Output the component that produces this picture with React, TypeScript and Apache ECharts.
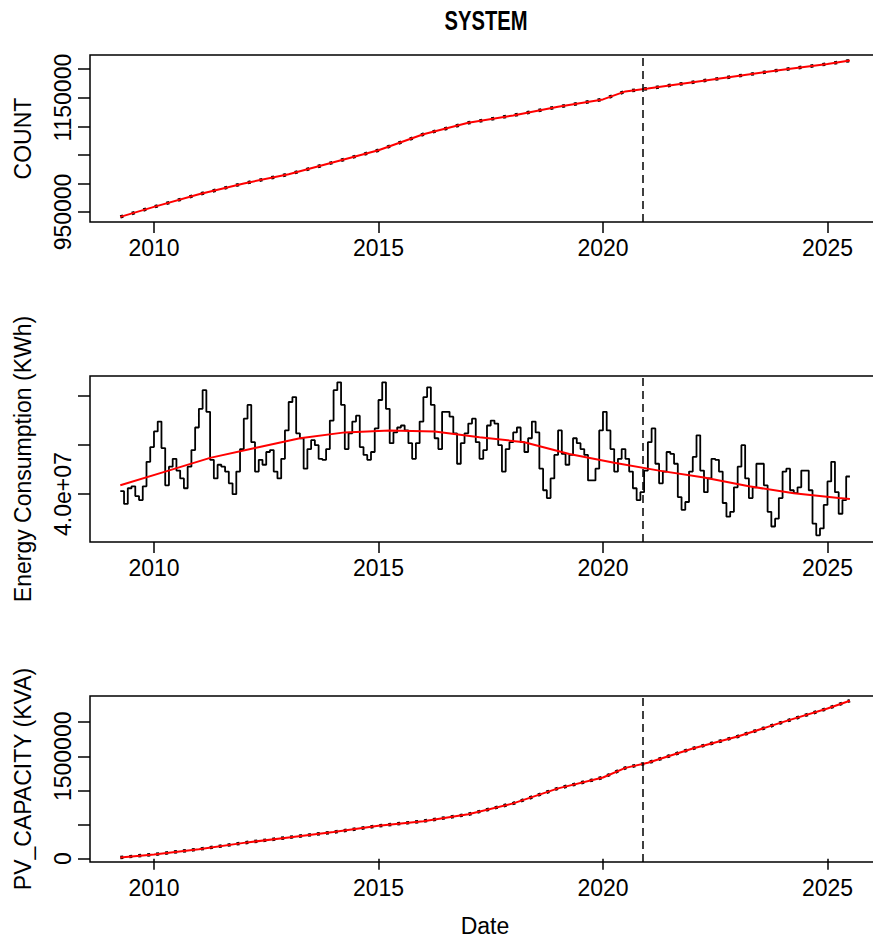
import React, { useEffect, useRef } from 'react';
import * as echarts from 'echarts';

// ---------- data ----------
const TITLE = 'SYSTEM';
const START_YEAR = 2009;
const START_MONTH = 4; // first monthly observation: April 2009
const CUTOFF_YEAR = 2020.875; // dashed vertical line (Nov 2020)

const X_TICKS = [2010, 2015, 2020, 2025];

// Panel 1: COUNT (read at knots, decimal years)
const COUNT_YEARS = [2009.25, 2010, 2011, 2012, 2013, 2014, 2015, 2016, 2017, 2018, 2019, 2020, 2020.5, 2021, 2022, 2023, 2024, 2025, 2025.5];
const COUNT_VALUES = [941400, 959000, 981000, 1000000, 1016000, 1037000, 1058000, 1086000, 1106000, 1119000, 1134000, 1147000, 1161000, 1166000, 1177000, 1188000, 1199000, 1209000, 1215000];
const COUNT_TICKS = [950000, 1000000, 1050000, 1100000, 1150000, 1200000];
const COUNT_LABELS = [950000, 1150000];

// Panel 2: Energy consumption, monthly, in millions of KWh (Apr 2009 .. Jul 2025)
const ENERGY_MONTHLY = [
  40.3, 39.0, 40.6, 40.8, 39.8, 39.4, 40.8, 43.3, 44.8, 46.4, 47.4, 44.7,
  40.9, 42.8, 43.6, 42.4, 41.6, 40.6, 42.8, 44.5, 46.8, 48.7, 50.6, 48.4,
  43.5, 41.6, 43.0, 42.8, 42.3, 41.1, 40.0, 42.3, 44.6, 47.7, 49.1, 45.3,
  42.3, 43.5, 43.0, 44.3, 44.5, 42.3, 41.6, 43.6, 46.5, 49.4, 49.9, 46.2,
  45.7, 42.6, 44.6, 45.5, 45.0, 43.6, 43.5, 44.6, 47.5, 50.6, 51.4, 49.1,
  44.6, 46.2, 47.4, 48.0, 44.8, 44.0, 43.5, 44.3, 46.7, 49.6, 51.4, 48.7,
  45.2, 46.3, 46.8, 47.0, 46.5, 45.2, 43.6, 45.2, 47.4, 49.9, 50.9, 49.1,
  45.7, 44.6, 48.4, 48.4, 47.9, 46.2, 43.1, 45.2, 46.2, 47.2, 47.7, 45.3,
  43.6, 44.5, 47.0, 47.5, 47.2, 45.0, 42.3, 44.6, 45.3, 46.3, 46.8, 45.3,
  44.3, 45.7, 47.4, 46.3, 42.6, 40.4, 39.6, 41.6, 44.0, 46.5, 44.1, 43.0,
  44.0, 45.7, 45.2, 44.6, 44.0, 41.4, 41.4, 42.6, 46.5, 48.4, 46.5, 44.6,
  42.3, 43.6, 44.6, 43.6, 42.3, 40.6, 39.4, 40.2, 42.4, 45.3, 46.7, 43.1,
  41.1, 42.3, 44.3, 44.1, 43.1, 39.7, 38.4, 39.2, 42.3, 43.8, 46.0, 42.4,
  40.2, 41.6, 43.6, 43.5, 42.3, 39.1, 37.7, 38.2, 40.7, 42.8, 45.0, 41.6,
  39.6, 40.7, 43.1, 43.1, 40.9, 38.2, 36.7, 37.5, 39.6, 42.3, 42.6, 40.4,
  40.1, 40.7, 42.4, 42.4, 40.4, 37.0, 35.8, 36.5, 38.9, 41.3, 43.3, 40.2,
  38.0, 39.4, 41.8, 41.8,
];
const ENERGY_TREND_YEARS = [2009.25, 2010.25, 2011.25, 2012.25, 2013.25, 2014.25, 2015.25, 2016.25, 2017.25, 2018.25, 2019.25, 2020.25, 2021.25, 2022.25, 2023.25, 2024.25, 2025.25, 2025.5];
const ENERGY_TREND = [40.9, 42.3, 43.7, 44.7, 45.7, 46.3, 46.5, 46.4, 45.8, 45.3, 44.1, 43.2, 42.4, 41.7, 40.8, 40.1, 39.6, 39.5];
const ENERGY_TICKS = [40, 45, 50];
const ENERGY_LABELS = [40];

// Panel 3: PV capacity (KVA)
const PV_YEARS = [2009.25, 2010, 2011, 2012, 2013, 2014, 2015, 2016, 2017, 2018, 2019, 2020, 2020.5, 2021, 2022, 2023, 2024, 2025, 2025.5];
const PV_VALUES = [19000, 62000, 140000, 232000, 312000, 390000, 482000, 550000, 650000, 810000, 1030000, 1190000, 1330000, 1405000, 1615000, 1790000, 2000000, 2200000, 2314000];
const PV_TICKS = [0, 500000, 1000000, 1500000, 2000000];
const PV_LABELS = [0, 1500000];

// ---------- layout ----------
const FONT = '"Liberation Sans", Arial, Helvetica, sans-serif';
const FS = 23;
const X_MIN = 2008.575;
const X_MAX = 2026.17;
const PLOT_LEFT = 90;
const PLOT_WIDTH = 790;

const zip = (xs: number[], ys: number[]) => xs.map((x, i) => [x, ys[i]]);

export default function App() {
  const ref = useRef<HTMLDivElement>(null);

  useEffect(() => {
    if (!ref.current) return;
    const chart = echarts.init(ref.current, undefined, { renderer: 'svg' });

    const energyData = ENERGY_MONTHLY.map((v, i) => [START_YEAR + (START_MONTH - 1 + i) / 12, v]);

    const grids = [
      { left: PLOT_LEFT, top: 55, width: PLOT_WIDTH, height: 167 },
      { left: PLOT_LEFT, top: 376, width: PLOT_WIDTH, height: 166 },
      { left: PLOT_LEFT, top: 696, width: PLOT_WIDTH, height: 166 },
    ].map((g) => ({
      ...g,
      show: true,
      borderColor: '#000',
      borderWidth: 1.5,
      backgroundColor: 'transparent',
      containLabel: false,
      outerBoundsMode: 'none',
    }));

    const xAxis = [0, 1, 2].map((i) => ({
      type: 'value',
      gridIndex: i,
      min: X_MIN,
      max: X_MAX,
      axisLine: { show: false },
      splitLine: { show: false },
      axisTick: { show: true, length: 11, customValues: X_TICKS, lineStyle: { color: '#000', width: 1.5 } },
      axisLabel: { customValues: X_TICKS, fontSize: FS, color: '#000', fontFamily: FONT, margin: 14, formatter: (v: number) => String(v) },
      ...(i === 2
        ? { name: 'Date', nameLocation: 'middle', nameGap: 52, nameTextStyle: { fontSize: FS, color: '#000', fontFamily: FONT } }
        : {}),
    }));

    const yAxisBase = (i: number, name: string, min: number, max: number, ticks: number[], labels: number[], fmt: (v: number) => string) => ({
      type: 'value',
      gridIndex: i,
      min,
      max,
      name,
      nameLocation: 'middle',
      nameGap: 56,
      nameTextStyle: { fontSize: FS, color: '#000', fontFamily: FONT },
      axisLine: { show: false },
      splitLine: { show: false },
      axisTick: { show: true, length: 12, customValues: ticks, lineStyle: { color: '#000', width: 1.5 } },
      axisLabel: { customValues: labels, rotate: 90, fontSize: FS, color: '#000', fontFamily: FONT, margin: 16, formatter: fmt },
    });

    const yAxis = [
      yAxisBase(0, 'COUNT', 932500, 1224700, COUNT_TICKS, COUNT_LABELS, (v) => String(v)),
      yAxisBase(1, 'Energy Consumption (KWh)', 35.12, 52.05, ENERGY_TICKS, ENERGY_LABELS, (v) => (v * 1e6).toExponential(1).replace('e+7', 'e+07')),
      yAxisBase(2, 'PV_CAPACITY (KVA)', -48200, 2383000, PV_TICKS, PV_LABELS, (v) => String(v)),
    ];

    const cutoff = () => ({
      silent: true,
      symbol: 'none',
      label: { show: false },
      lineStyle: { color: '#000', type: [8, 5], width: 1.5 },
      data: [{ xAxis: CUTOFF_YEAR }],
    });

    const series: any[] = [
      // Panel 1
      { type: 'line', xAxisIndex: 0, yAxisIndex: 0, data: zip(COUNT_YEARS, COUNT_VALUES), symbol: 'none', lineStyle: { color: '#000', width: 3.5, type: [3, 9] }, z: 2, markLine: cutoff() },
      { type: 'line', xAxisIndex: 0, yAxisIndex: 0, data: zip(COUNT_YEARS, COUNT_VALUES), symbol: 'none', lineStyle: { color: '#ff0000', width: 2 }, z: 3 },
      // Panel 2
      { type: 'line', xAxisIndex: 1, yAxisIndex: 1, data: energyData, step: 'end', symbol: 'none', lineStyle: { color: '#000', width: 1.8 }, z: 2, markLine: cutoff() },
      { type: 'line', xAxisIndex: 1, yAxisIndex: 1, data: zip(ENERGY_TREND_YEARS, ENERGY_TREND), symbol: 'none', lineStyle: { color: '#ff0000', width: 2 }, z: 3 },
      // Panel 3
      { type: 'line', xAxisIndex: 2, yAxisIndex: 2, data: zip(PV_YEARS, PV_VALUES), symbol: 'none', lineStyle: { color: '#000', width: 3.5, type: [3, 6] }, z: 2, markLine: cutoff() },
      { type: 'line', xAxisIndex: 2, yAxisIndex: 2, data: zip(PV_YEARS, PV_VALUES), symbol: 'none', lineStyle: { color: '#ff0000', width: 2 }, z: 3 },
    ];

    chart.setOption({
      animation: false,
      backgroundColor: '#ffffff',
      graphic: [
        {
          type: 'text',
          x: 486,
          y: 20,
          scaleX: 0.72,
          style: { text: TITLE, font: `bold 28px ${FONT}`, fill: '#000', align: 'center', verticalAlign: 'middle' },
        },
      ],
      grid: grids,
      xAxis,
      yAxis,
      series,
    });

    return () => chart.dispose();
  }, []);

  return <div ref={ref} style={{ position: 'absolute', left: 0, top: 0, width: 873, height: 941, background: '#fff' }} />;
}
